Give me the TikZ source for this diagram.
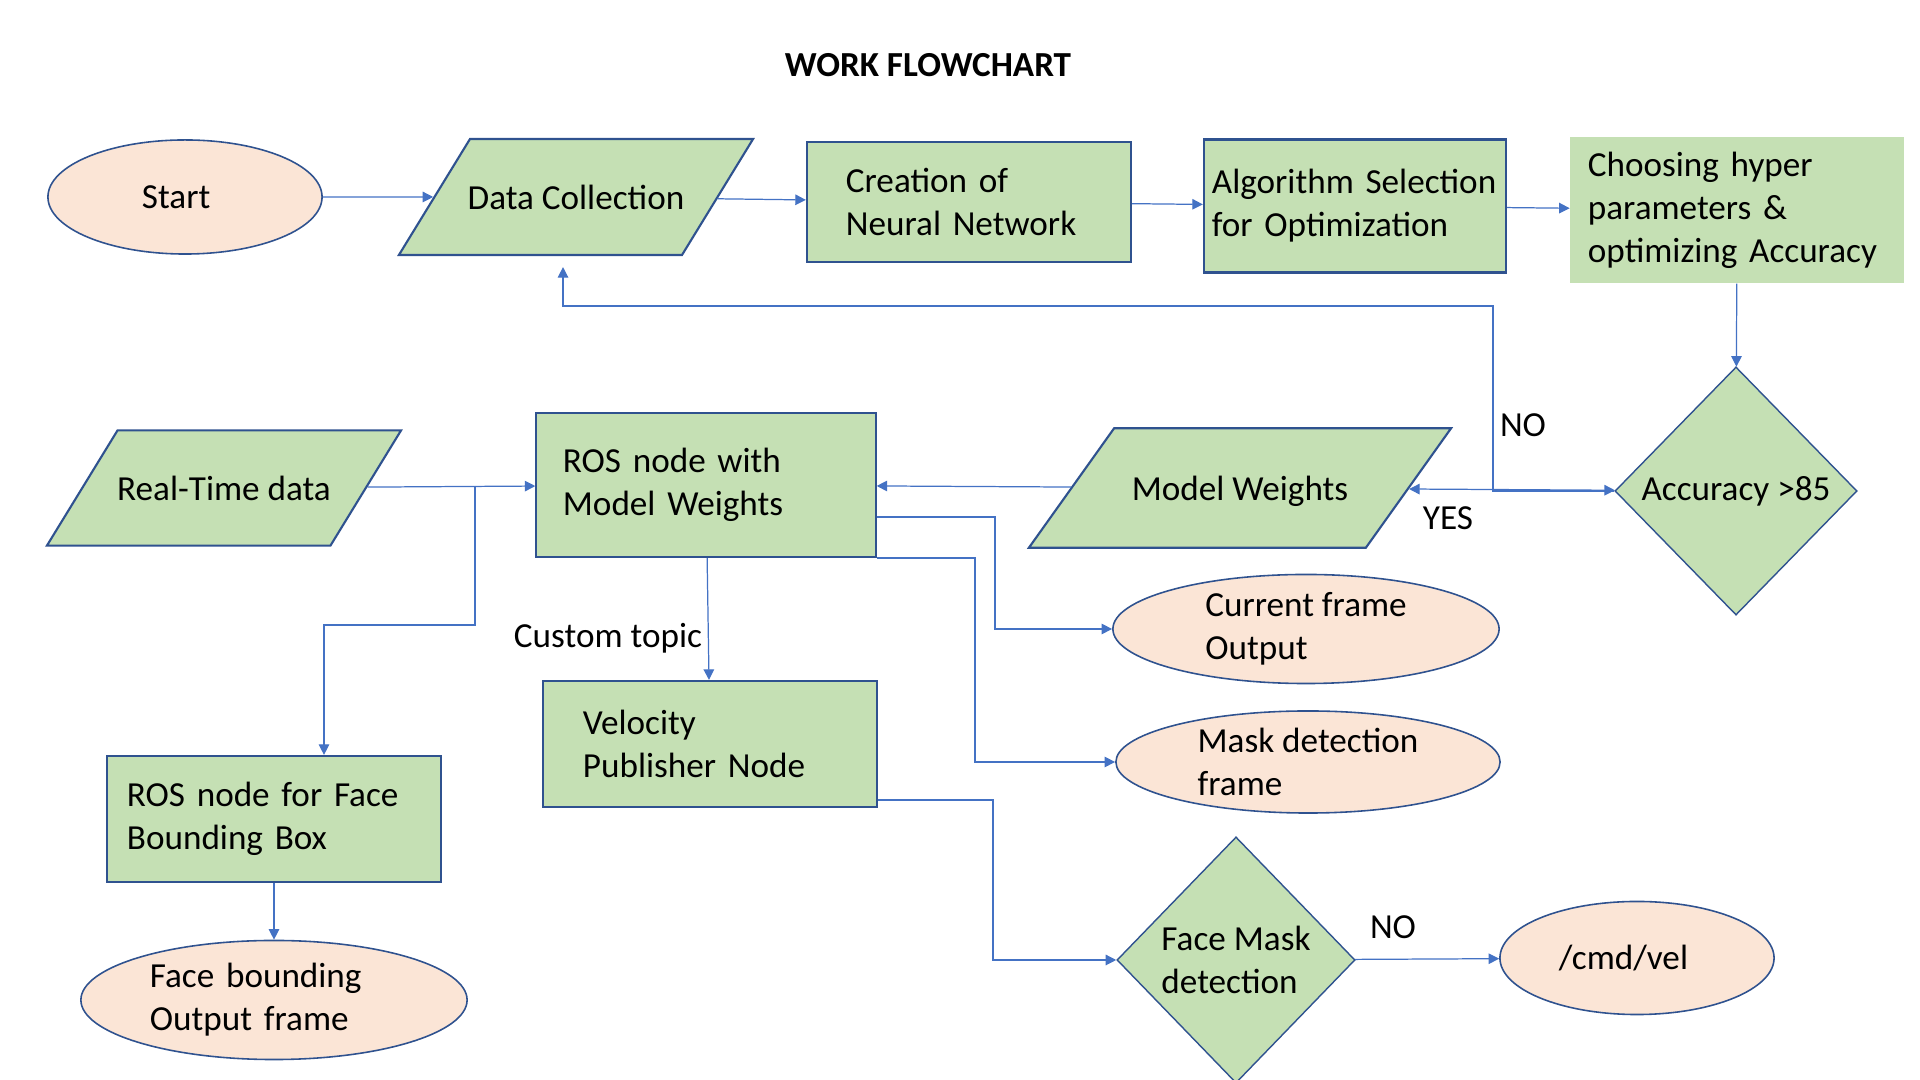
\documentclass[tikz,border=0pt]{standalone}
\usepackage{fontspec}
\setmainfont{Carlito}
\usetikzlibrary{arrows.meta, positioning, shapes.geometric}
\definecolor{boxgreen}{HTML}{C5E0B4}
\definecolor{termpeach}{HTML}{FBE5D6}
\definecolor{edgeblue}{HTML}{2F528F}
\definecolor{linkblue}{HTML}{4472C4}
\tikzset{
    box/.style={
        draw=edgeblue,
        fill=boxgreen,
        line width=0.6pt,
        align=left,
        inner sep=0pt
    },
    greenbox/.style={
        fill=boxgreen,
        align=left,
        inner sep=0pt
    },
    terminal/.style={
        ellipse,
        draw=edgeblue,
        fill=termpeach,
        line width=0.45pt,
        align=left,
        inner sep=0pt
    },
    iobox/.style={
        trapezium,
        trapezium left angle=58.5,
        trapezium right angle=121.5,
        trapezium stretches body,
        draw=edgeblue,
        fill=boxgreen,
        line width=0.6pt,
        text height=8pt,
        text depth=1pt,
        inner xsep=-1pt,
        inner ysep=12pt
    },
    decision/.style={
        diamond,
        draw=edgeblue,
        fill=boxgreen,
        line width=0.4pt,
        align=left,
        inner sep=0pt
    },
    line/.style={->, draw=linkblue, line width=0.35pt},
    every node/.style={font=\fontsize{10}{12.2}\selectfont}
}

\begin{document}
\begin{tikzpicture}[x=0.01cm, y=-0.01cm, >={Triangle[length=3pt,width=3pt]}]
\useasboundingbox (0,0) rectangle (1920,1080);

\node[font=\fontsize{10}{12.2}\selectfont\bfseries] (title) at (928,65) {WORK FLOWCHART};

% training row
\node[terminal, minimum width=2.74cm, minimum height=1.14cm, text width=0.86cm] (start) at (185,197) {Start};
\node[iobox, minimum width=3.54cm] (data) at (576,197) {Data Collection};
\node[box, minimum width=3.24cm, minimum height=1.2cm, text width=2.46cm] (neural) at (969,202) {Creation of\\Neural Network};
\node[box, minimum width=3.02cm, minimum height=1.33cm, text width=2.86cm] (algo) at (1355,206) {Algorithm Selection\\for Optimization};
\node[greenbox, minimum width=3.33cm, minimum height=1.46cm, text width=2.98cm] (hyper) at (1737,210) {Choosing hyper\\parameters \&\\optimizing Accuracy};
\node[decision, minimum width=2.42cm, minimum height=2.48cm] (acc) at (1736,491) {Accuracy >85};
\node[iobox, trapezium left angle=54.5, trapezium right angle=125.5, inner ysep=12.5pt, minimum width=4.22cm] (weights) at (1240,488) {Model Weights};

% ROS side
\node[iobox, inner ysep=11.9pt, minimum width=3.54cm] (realtime) at (224,488) {Real-Time data};
\node[box, minimum width=3.39cm, minimum height=1.44cm, text width=2.86cm] (rosweights) at (706,485) {ROS node with\\Model Weights};
\node[box, minimum width=3.34cm, minimum height=1.26cm, text width=2.54cm] (velocity) at (710,744) {Velocity\\Publisher Node};
\node[box, minimum width=3.34cm, minimum height=1.26cm, text width=2.94cm] (rosface) at (274,819) {ROS node for Face\\Bounding Box};
\node[terminal, minimum width=3.86cm, minimum height=1.19cm, text width=2.48cm] (faceout) at (274,1000) {Face bounding\\Output frame};
\node[terminal, minimum width=3.86cm, minimum height=1.09cm] (current) at (1306,629) {Current frame\\Output};
\node[terminal, minimum width=3.84cm, minimum height=1.02cm] (maskout) at (1308,762) {Mask detection\\frame};
\node[decision, minimum width=2.38cm, minimum height=2.46cm] (facemask) at (1236,960) {Face Mask\\detection};
\node[terminal, minimum width=2.74cm, minimum height=1.13cm, text width=1.56cm] (cmdvel) at (1637,958) {/cmd/vel};

\node (nolabel) at (1523,425) {NO};
\node (yeslabel) at (1448,518) {YES};
\node (topiclabel) at (608,638) {Custom topic};
\node (nolabel2) at (1393,927) {NO};

\coordinate (nobend) at (1493,306);
\coordinate (rtsplit) at (475,486);
\coordinate (facebend) at (324,625);
\coordinate (curbend) at (995,629);
\coordinate (maskbend) at (975,762);
\coordinate (velbend) at (993,960);

\draw[line] (start) -- (data);
\draw[line] (data) -- (neural);
\draw[line] (neural) -- (algo);
\draw[line] (algo) -- (hyper);
\draw[line] (hyper) -- (acc);
\draw[line, <->] (weights) -- (acc);
\draw[line] (acc.west) -| (nobend) -| ([shift={(-13,11)}]data.south);
\draw[line] (weights) -- (rosweights);
\draw[line] (realtime) -- (rosweights);
\draw[line] (rtsplit) |- (facebend) -- (facebend |- rosface.north);
\draw[line] (rosweights) -- (velocity);
\draw[line] ([yshift=-0.32cm]rosweights.east) -| (curbend) -- (current);
\draw[line] (rosweights.south east) -| (maskbend) -- (maskout);
\draw[line] ([yshift=-0.56cm]velocity.east) -| (velbend) -- (facemask);
\draw[line] (facemask) -- (cmdvel);
\draw[line] (rosface) -- (faceout);
\end{tikzpicture}
\end{document}
